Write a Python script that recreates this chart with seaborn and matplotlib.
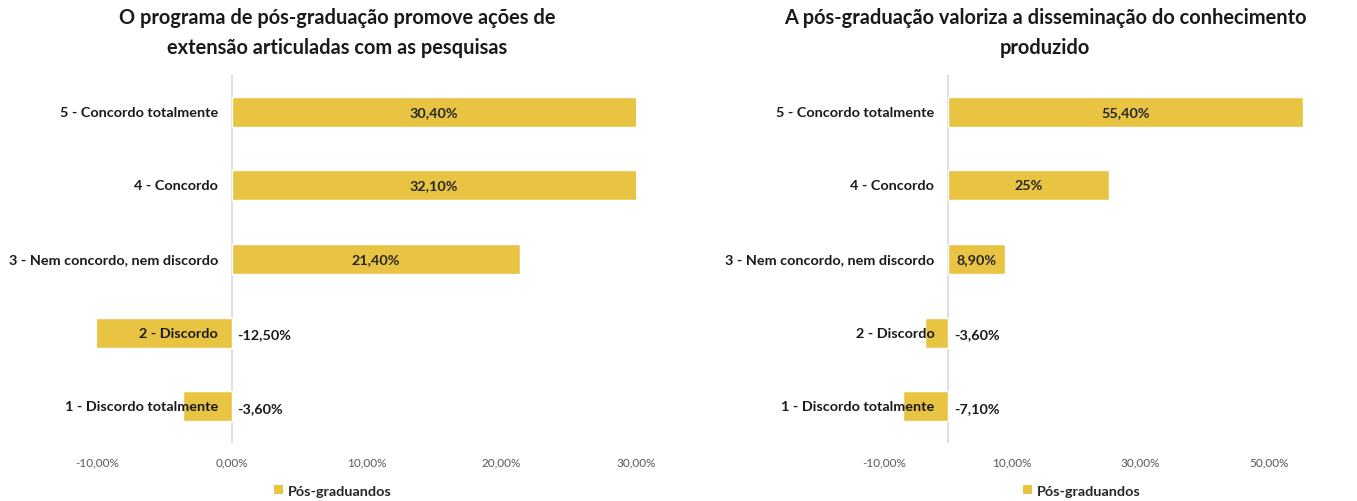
import matplotlib
matplotlib.use("Agg")
import matplotlib.pyplot as plt
from matplotlib.patches import Patch
import seaborn as sns
import pandas as pd

sns.set_theme(style="white")
plt.rcParams['font.family'] = ['Lato', 'DejaVu Sans']

categories = ["5 - Concordo totalmente", "4 - Concordo", "3 - Nem concordo, nem discordo",
              "2 - Discordo", "1 - Discordo totalmente"]
left_values = [30.4, 32.1, 21.4, -12.5, -3.6]
left_labels = ["30,40%", "32,10%", "21,40%", "-12,50%", "-3,60%"]
right_values = [55.4, 25.0, 8.9, -3.6, -7.1]
right_labels = ["55,40%", "25%", "8,90%", "-3,60%", "-7,10%"]
left_ticks = [-10, 0, 10, 20, 30]
left_ticklabels = ["-10,00%", "0,00%", "10,00%", "20,00%", "30,00%"]
right_ticks = [-10, 10, 30, 50]
right_ticklabels = ["-10,00%", "10,00%", "30,00%", "50,00%"]
left_title = "O programa de pós-graduação promove ações de\nextensão articuladas com as pesquisas"
right_title = "A pós-graduação valoriza a disseminação do conhecimento\nproduzido"
series_name = "Pós-graduandos"

BAR = "#E9C443"
W, H = 1357, 502
fig = plt.figure(figsize=(W / 100, H / 100), dpi=100)


def px_ax(x0, x1, y0, y1):
    return fig.add_axes([x0 / W, 1 - y1 / H, (x1 - x0) / W, (y1 - y0) / H])


def draw(ax, values, labels, xlim, ticks, ticklabels):
    df = pd.DataFrame({"cat": categories, "val": values})
    sns.barplot(data=df, x="val", y="cat", order=categories, color=BAR,
                width=0.41, saturation=1, ax=ax, orient="h")
    ax.set_xlim(*xlim)
    ax.set_ylim(4.5, -0.5)
    for s in ax.spines.values():
        s.set_visible(False)
    ax.axvline(0, color="#D9D9D9", lw=1.2, zorder=0)
    ax.set_xticks(ticks)
    ax.set_xticklabels(ticklabels, fontsize=8.5, color="#595959")
    ax.tick_params(axis="x", length=0, pad=10)
    ax.set_yticks([])
    ax.set_xlabel("")
    ax.set_ylabel("")
    for i, (cat, v, lab) in enumerate(zip(categories, values, labels)):
        ax.annotate(cat, xy=(0, i), xytext=(-10, 0), textcoords="offset points",
                    ha="right", va="center", fontsize=10.4, fontweight="bold",
                    color="#1a1a1a")
        if v >= 0:
            vis = min(v, xlim[1])
            ax.text(vis / 2, i, lab, ha="center", va="center", fontsize=10.4,
                    fontweight="bold", color="#262626")
        else:
            ax.annotate(lab, xy=(0, i), xytext=(4, -1), textcoords="offset points",
                        ha="left", va="center", fontsize=10.4, fontweight="bold",
                        color="#1a1a1a")


axL = px_ax(97, 636, 76, 444)
draw(axL, left_values, left_labels, (-10, 30), left_ticks, left_ticklabels)
axR = px_ax(884, 1333, 76, 444)
draw(axR, right_values, right_labels, (-10, 60), right_ticks, right_ticklabels)

fig.text(337 / W, 1 - 33 / H, left_title, ha="center", va="center", fontsize=14.4,
         fontweight="bold", color="#1a1a1a", linespacing=1.6)
fig.text(1045 / W, 1 - 33 / H, right_title, ha="center", va="center", fontsize=14.4,
         fontweight="bold", color="#1a1a1a", linespacing=1.6)

for cx in (333 / W, 1082 / W):
    fig.legend(handles=[Patch(facecolor=BAR, edgecolor="none", label=series_name)],
               loc="center", bbox_to_anchor=(cx, 1 - 492 / H), frameon=False,
               handlelength=0.6, handleheight=0.6, handletextpad=0.4,
               prop={"size": 10.4, "weight": "bold"})

fig.savefig("out.png", dpi=100)
